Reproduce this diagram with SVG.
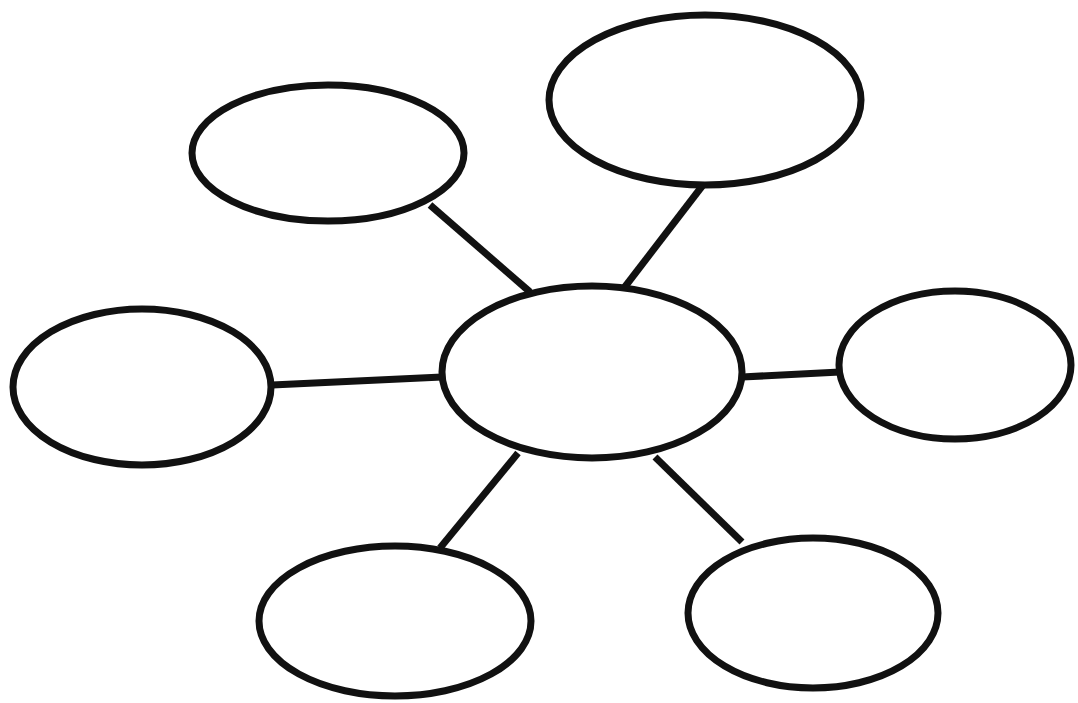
<svg xmlns="http://www.w3.org/2000/svg" width="1078" height="703" viewBox="0 0 1078 703">
<style>
.n{fill:#fff;stroke:#111;stroke-width:7}
.c{stroke:#111;stroke-width:7;fill:none}
</style>
<rect width="1078" height="703" fill="#fff"/>
<g id="connectors">
<line class="c" x1="430" y1="205" x2="530" y2="292"/>
<line class="c" x1="703" y1="185" x2="624" y2="288"/>
<line class="c" x1="272" y1="385" x2="442" y2="377"/>
<line class="c" x1="742" y1="377" x2="840" y2="372"/>
<line class="c" x1="518" y1="453" x2="440" y2="548"/>
<line class="c" x1="655" y1="457" x2="742" y2="542"/>
</g>
<g id="center"><ellipse class="n" cx="592" cy="372" rx="150" ry="86"/></g>
<g id="topleft"><ellipse class="n" cx="328" cy="153" rx="136" ry="68"/></g>
<g id="topright"><ellipse class="n" cx="705" cy="100" rx="156" ry="85"/></g>
<g id="left"><ellipse class="n" cx="142" cy="387" rx="129" ry="78"/></g>
<g id="right"><ellipse class="n" cx="955" cy="365" rx="116" ry="74"/></g>
<g id="bottomleft"><ellipse class="n" cx="395" cy="621" rx="136" ry="75"/></g>
<g id="bottomright"><ellipse class="n" cx="813" cy="613" rx="125" ry="75"/></g>
</svg>
